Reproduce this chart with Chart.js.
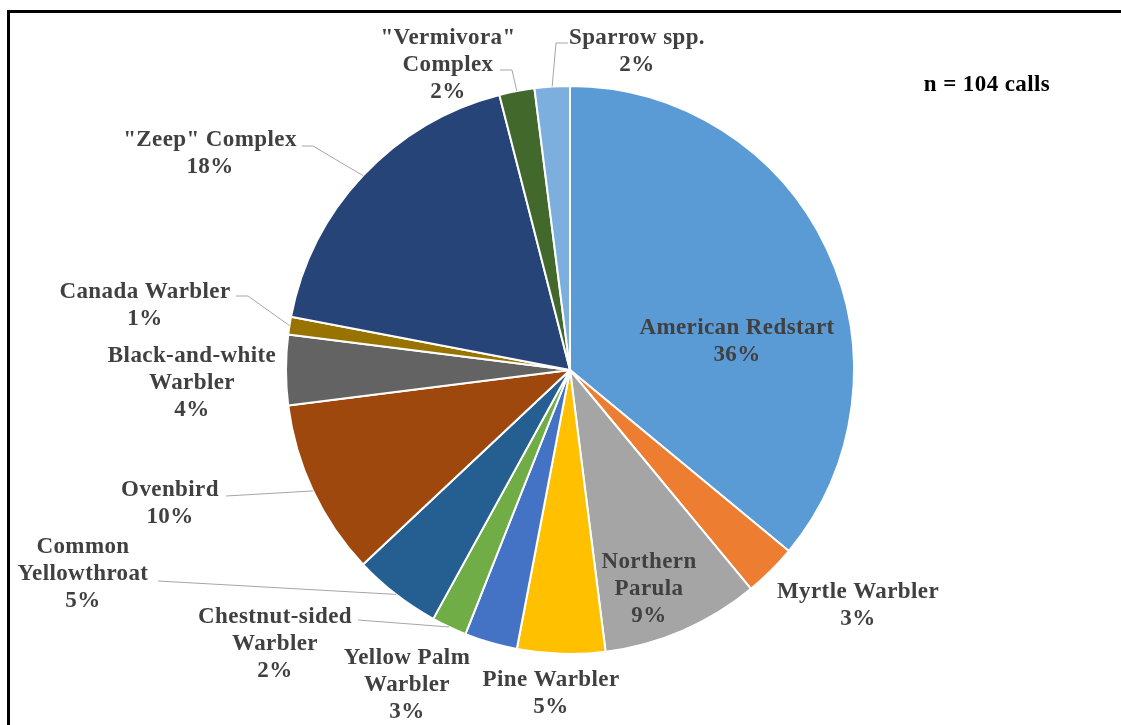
<!DOCTYPE html>
<html>
<head>
<meta charset="utf-8">
<script src="https://cdn.jsdelivr.net/npm/chart.js@4"></script>
<style>
  html, body { margin: 0; padding: 0; background: #fff; overflow: hidden; }
  .frame { position: absolute; left: 7px; top: 10px; width: 2000px; height: 2000px; border: 3px solid #000; }
  .wrap { position: absolute; left: 0; top: 0; width: 1121px; height: 725px; }
</style>
</head>
<body>
<div class="frame"></div>
<div class="wrap"><canvas id="callsChart"></canvas></div>
<script>
// species making up the recorded calls, clockwise from 12 o'clock
const species = [
    ["American Redstart"], ["Myrtle Warbler"], ["Northern", "Parula"], ["Pine Warbler"],
    ["Yellow Palm", "Warbler"], ["Chestnut-sided", "Warbler"], ["Common", "Yellowthroat"],
    ["Ovenbird"], ["Black-and-white", "Warbler"], ["Canada Warbler"], ["\"Zeep\" Complex"],
    ["\"Vermivora\"", "Complex"], ["Sparrow spp."]
];
const shares = [36, 3, 9, 5, 3, 2, 5, 10, 4, 1, 18, 2, 2];
const sampleNote = "n = 104 calls";

const sliceColors = ["#5B9BD5", "#ED7D31", "#A5A5A5", "#FFC000", "#4472C4", "#70AD47",
    "#255E91", "#9E480E", "#636363", "#997300", "#264478", "#43682B", "#7CAFDD"];

// label placement: centre of the first text line
const labelAt = [[737, 328], [858, 592], [649, 562], [551, 680], [407, 658], [275, 617],
    [83, 547], [170, 490], [192, 356], [145, 292], [210, 140], [448, 38], [637, 38]];
// leader line points on the label side; the last point is the slice edge
const leaders = {
    5: [[358, 620]],
    6: [[158, 581]],
    7: [[226, 496]],
    9: [[236, 296], [248, 296]],
    10: [[302, 146], [313, 146]],
    11: [[500, 70], [512, 70]],
    12: [[568, 43], [556, 43]]
};

const FONT = 'bold 23px "Liberation Serif", "Times New Roman", serif';
const LINE_H = 27;

const pieLabels = {
    id: "pieLabels",
    afterDatasetsDraw(chart) {
        const ctx = chart.ctx;
        const arcs = chart.getDatasetMeta(0).data;
        ctx.save();

        // leader lines
        ctx.strokeStyle = "#A6A6A6";
        ctx.lineWidth = 1;
        Object.keys(leaders).forEach(k => {
            const arc = arcs[k];
            const mid = (arc.startAngle + arc.endAngle) / 2;
            const ex = arc.x + Math.cos(mid) * arc.outerRadius;
            const ey = arc.y + Math.sin(mid) * arc.outerRadius;
            ctx.beginPath();
            leaders[k].forEach((p, i) => i ? ctx.lineTo(p[0], p[1]) : ctx.moveTo(p[0], p[1]));
            ctx.lineTo(ex, ey);
            ctx.stroke();
        });

        // names and percentages
        ctx.font = FONT;
        ctx.letterSpacing = "0.4px";
        ctx.fillStyle = "#404040";
        ctx.textAlign = "center";
        ctx.textBaseline = "middle";
        const total = shares.reduce((a, b) => a + b, 0);
        species.forEach((name, i) => {
            const lines = name.concat([Math.round(shares[i] / total * 100) + "%"]);
            lines.forEach((t, j) => ctx.fillText(t, labelAt[i][0], labelAt[i][1] + j * LINE_H));
        });

        ctx.fillStyle = "#000";
        ctx.fillText(sampleNote, 987, 85);
        ctx.restore();
    }
};

new Chart(document.getElementById("callsChart"), {
    type: "pie",
    data: {
        labels: species.map(s => s.join(" ")),
        datasets: [{
            data: shares,
            backgroundColor: sliceColors,
            borderColor: "#fff",
            borderWidth: 2
        }]
    },
    options: {
        responsive: true,
        maintainAspectRatio: false,
        animation: false,
        layout: { padding: { left: 285, right: 266, top: 85, bottom: 70 } },
        plugins: {
            legend: { display: false },
            tooltip: { enabled: false }
        }
    },
    plugins: [pieLabels]
});
</script>
</body>
</html>
